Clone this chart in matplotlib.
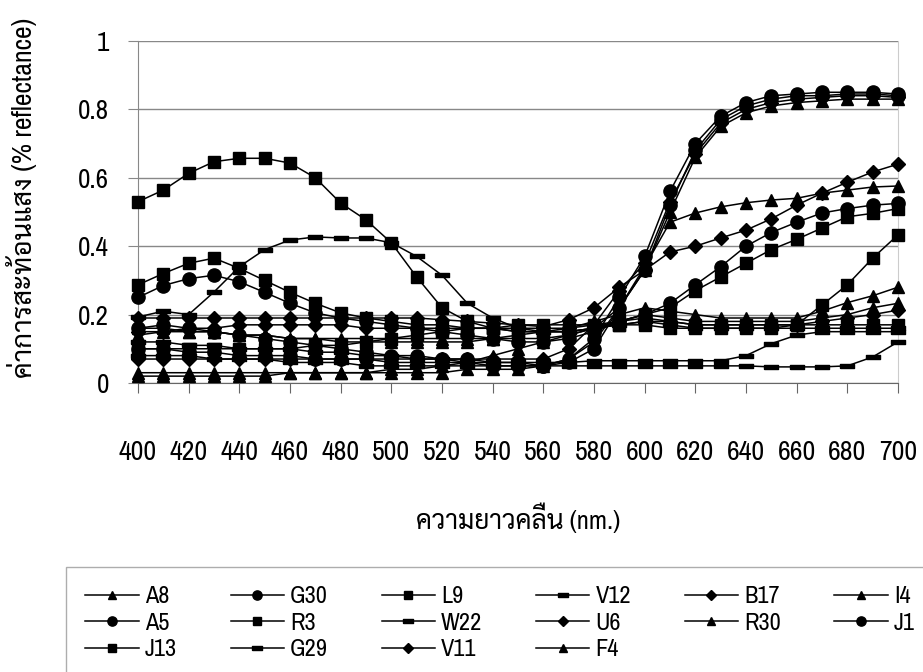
import numpy as np
import matplotlib
matplotlib.use("Agg")
import matplotlib.pyplot as plt

# wavelength (nm), 10 nm steps
wl = np.arange(400, 701, 10)
xticks = np.arange(400, 701, 20)

A8 = [0.03,0.03,0.03,0.03,0.03,0.03,0.03,0.03,0.03,0.03,0.03,0.03,0.03,0.04,0.04,0.04,0.05,0.07,0.12,0.22,0.33,0.50,0.66,0.75,0.79,0.81,0.82,0.825,0.83,0.83,0.83]
G30 = [0.10,0.10,0.09,0.09,0.08,0.08,0.08,0.07,0.07,0.07,0.06,0.06,0.06,0.06,0.05,0.05,0.05,0.07,0.13,0.25,0.37,0.56,0.70,0.78,0.82,0.84,0.845,0.85,0.85,0.85,0.845]
L9 = [0.530,0.564,0.613,0.647,0.657,0.657,0.643,0.600,0.526,0.477,0.410,0.310,0.220,0.180,0.160,0.150,0.150,0.150,0.160,0.170,0.180,0.180,0.170,0.170,0.170,0.170,0.170,0.170,0.170,0.170,0.170]
V12 = [0.12,0.12,0.11,0.11,0.10,0.10,0.10,0.09,0.09,0.08,0.08,0.07,0.07,0.06,0.06,0.06,0.06,0.06,0.065,0.065,0.065,0.065,0.065,0.065,0.08,0.115,0.14,0.15,0.15,0.15,0.15]
B17 = [0.19,0.19,0.19,0.19,0.19,0.19,0.19,0.19,0.19,0.19,0.19,0.19,0.185,0.18,0.175,0.17,0.165,0.185,0.22,0.28,0.33,0.383,0.40,0.424,0.447,0.48,0.52,0.555,0.587,0.617,0.64]
I4 = [0.16,0.16,0.15,0.15,0.14,0.14,0.13,0.13,0.12,0.12,0.12,0.12,0.12,0.12,0.13,0.14,0.15,0.16,0.18,0.20,0.22,0.21,0.20,0.19,0.19,0.19,0.19,0.21,0.235,0.255,0.28]
A5 = [0.25,0.285,0.305,0.315,0.296,0.265,0.233,0.205,0.19,0.18,0.17,0.16,0.15,0.14,0.13,0.12,0.12,0.13,0.15,0.18,0.20,0.233,0.287,0.34,0.40,0.44,0.47,0.497,0.51,0.52,0.525]
R3 = [0.287,0.32,0.35,0.365,0.335,0.30,0.265,0.233,0.205,0.19,0.18,0.17,0.17,0.16,0.16,0.15,0.15,0.15,0.16,0.18,0.20,0.22,0.27,0.31,0.35,0.39,0.42,0.453,0.486,0.496,0.51]
W22 = [0.193,0.21,0.20,0.266,0.34,0.39,0.418,0.427,0.424,0.424,0.41,0.37,0.315,0.233,0.19,0.16,0.15,0.15,0.16,0.17,0.18,0.17,0.16,0.16,0.16,0.16,0.16,0.16,0.16,0.16,0.16]
U6 = [0.07,0.07,0.07,0.07,0.07,0.07,0.07,0.07,0.07,0.07,0.07,0.07,0.07,0.07,0.07,0.07,0.07,0.10,0.17,0.27,0.35,0.53,0.67,0.76,0.80,0.82,0.83,0.835,0.84,0.84,0.835]
R30 = [0.14,0.15,0.15,0.15,0.14,0.14,0.13,0.13,0.13,0.13,0.13,0.13,0.13,0.13,0.13,0.13,0.13,0.14,0.16,0.22,0.34,0.47,0.497,0.515,0.527,0.535,0.54,0.555,0.564,0.573,0.576]
J1 = [0.16,0.17,0.16,0.15,0.14,0.13,0.12,0.11,0.10,0.09,0.08,0.08,0.07,0.07,0.06,0.06,0.05,0.06,0.10,0.22,0.33,0.52,0.68,0.77,0.81,0.83,0.84,0.84,0.845,0.845,0.84]
J13 = [0.10,0.10,0.10,0.10,0.10,0.10,0.10,0.11,0.11,0.12,0.13,0.14,0.15,0.16,0.16,0.17,0.17,0.17,0.17,0.17,0.17,0.16,0.16,0.16,0.16,0.16,0.17,0.228,0.287,0.365,0.433]
G29 = [0.08,0.08,0.08,0.07,0.07,0.07,0.06,0.06,0.06,0.05,0.05,0.05,0.05,0.05,0.05,0.05,0.05,0.05,0.05,0.05,0.05,0.05,0.05,0.05,0.05,0.047,0.047,0.047,0.05,0.076,0.12]
V11 = [0.15,0.15,0.16,0.16,0.17,0.17,0.17,0.17,0.17,0.16,0.16,0.16,0.16,0.16,0.16,0.16,0.16,0.16,0.17,0.18,0.19,0.18,0.17,0.17,0.17,0.17,0.17,0.18,0.19,0.20,0.213]
F4 = [0.02,0.02,0.02,0.02,0.02,0.02,0.03,0.03,0.03,0.03,0.04,0.04,0.05,0.06,0.08,0.10,0.12,0.14,0.16,0.18,0.20,0.19,0.18,0.18,0.18,0.18,0.18,0.19,0.20,0.22,0.233]

names = ["A8","G30","L9","V12","B17","I4","A5","R3","W22","U6","R30","J1","J13","G29","V11","F4"]
series = [A8,G30,L9,V12,B17,I4,A5,R3,W22,U6,R30,J1,J13,G29,V11,F4]

# short bar marker for the "dash" samples
rect = [(-1,-0.35),(1,-0.35),(1,0.35),(-1,0.35),(-1,-0.35)]
mk = {"A8":"^","G30":"o","L9":"s","V12":rect,"B17":"D","I4":"^","A5":"o","R3":"s",
      "W22":rect,"U6":"D","R30":"^","J1":"o","J13":"s","G29":rect,"V11":"D","F4":"^"}
ms = {"^":9,"o":9.5,"s":8.5,"D":7}

plt.rcParams['font.family'] = ['Liberation Sans Narrow', 'Archivo Narrow', 'Sarabun', 'DejaVu Sans']

fig = plt.figure(figsize=(9.23,6.72), dpi=100)
ax = fig.add_axes([0.1495, 0.4301, 0.8234, 0.5089])

lines = {}
for n, v in zip(names, series):
    m = mk[n]
    z = 4 if m == "o" else 3
    l, = ax.plot(wl, v, color='black', lw=1.1, marker=m,
                 ms=(10 if isinstance(m, list) else ms[m]), clip_on=False, zorder=z)
    lines[n] = l

ax.set_xlim(400, 700)
ax.set_ylim(0, 1)
ax.set_yticks([0,0.2,0.4,0.6,0.8,1])
ax.set_yticklabels(['0','0.2','0.4','0.6','0.8','1'])
ax.set_xticks(xticks)
ax.grid(axis='y', color='#888888', lw=1)
ax.set_axisbelow(True)
ax.spines['top'].set_visible(False)
ax.spines['right'].set_color('#cccccc')
ax.spines['left'].set_color('#888888')
ax.spines['bottom'].set_color('#666666')
ax.tick_params(axis='x', length=7, pad=34, labelsize=20, color='#666666')
ax.tick_params(axis='y', length=7, pad=14, labelsize=19.5, color='#888888')

fig.text(518/923, 1-518/672, "ความยาวคลื่น (nm.)", ha='center', va='center', fontsize=19)
fig.text(22/923, 1-198/672, "ค่าการสะท้อนแสง (% reflectance)", rotation=90,
         ha='center', va='center', fontsize=20)

# legend filled column by column so it reads row-wise like the original
order = ["A8","A5","J13","G30","R3","G29","L9","W22","V11","V12","U6","F4","B17","R30","I4","J1"]
leg = fig.legend([lines[n] for n in order], order, ncols=6, loc='upper left',
                 bbox_to_anchor=(66/923, 1-567/672), borderaxespad=0,
                 fontsize=17.5, markerscale=0.7,
                 handlelength=2.2, handletextpad=0.25, columnspacing=2.2,
                 labelspacing=0.22, frameon=True, fancybox=False, borderpad=0.8)
leg.get_frame().set_edgecolor('#999999')

fig.savefig("out.png", dpi=100)
